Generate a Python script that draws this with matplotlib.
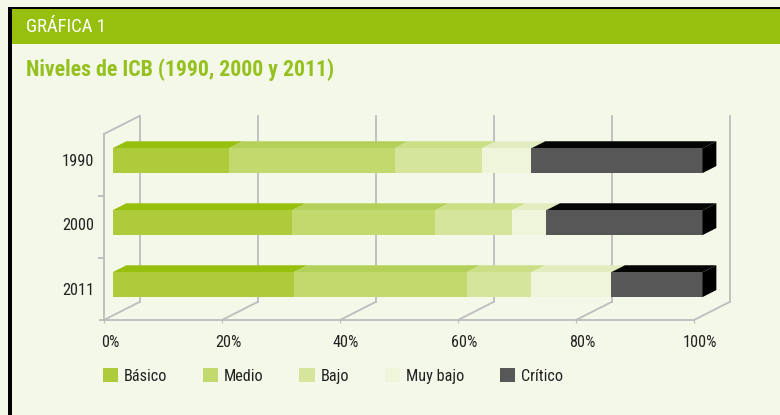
import os
import matplotlib
matplotlib.use("Agg")
import matplotlib.pyplot as plt
from matplotlib.patches import Rectangle, Polygon, Patch
from matplotlib.lines import Line2D
from matplotlib.transforms import ScaledTranslation
from matplotlib import font_manager
from matplotlib.font_manager import FontProperties
import numpy as np

# ---------------- data ----------------
years = ["1990", "2000", "2011"]
series = ["Básico", "Medio", "Bajo", "Muy bajo", "Crítico"]
basico   = [19.7, 30.4, 30.7]
medio    = [28.1, 24.3, 29.3]
bajo     = [14.8, 13.0, 11.0]
muy_bajo = [8.4, 5.8, 13.5]
critico  = [29.0, 26.5, 15.5]
xticks = [0, 20, 40, 60, 80, 100]
xtick_labels = ["0%", "20%", "40%", "60%", "80%", "100%"]

header_text = "GRÁFICA 1"
title_text = "Niveles de ICB (1990, 2000 y 2011)"

# ---------------- style ----------------
front_colors = ["#adcb3a", "#c2d96e", "#d5e59c", "#eff5da", "#575757"]
top_colors   = ["#97bf0d", "#b3d158", "#cadf86", "#e2edbf", "#050505"]
side_color = "#000000"
bg = "#f4f8e9"
green_header = "#97bf0d"
title_green = "#95c11f"
grid_col = "#bdbdbd"


def find_font(bold):
    bad = ["italic", "oblique", "light", "thin", "medium", "black", "semibold",
           "extrabold", "semicondensed", "extracondensed", "ultra", "demi"]
    prefs = ["liberationsansnarrow", "robotocondensed", "roboto_condensed",
             "notosans-condensed", "opensans-condensed", "opensans_condensed",
             "dejavusanscondensed"]
    best = None
    for f in font_manager.fontManager.ttflist:
        fn = os.path.basename(f.fname).lower()
        if not ("narrow" in fn or "condensed" in fn):
            continue
        if any(b in fn for b in bad):
            continue
        if bold != ("bold" in fn):
            continue
        for rank, p in enumerate(prefs):
            if p in fn:
                if best is None or rank < best[0]:
                    best = (rank, f.fname)
                break
    return best[1] if best else None


reg_file = find_font(False)
bold_file = find_font(True)


def fp(size, bold=False):
    f = bold_file if bold else reg_file
    if f:
        return FontProperties(fname=f, size=size)
    return FontProperties(family=["DejaVu Sans"], stretch="condensed", size=size,
                          weight="bold" if bold else "normal")


W, H = 780, 415
fig = plt.figure(figsize=(W / 100, H / 100), dpi=100, facecolor=bg)
renderer = fig.canvas.get_renderer()


def fit_size(text, target_px, bold=False, ref=12.0):
    t = fig.text(0, 0, text, fontproperties=fp(ref, bold))
    w = t.get_window_extent(renderer).width
    t.remove()
    return ref * target_px / w


TITLE_SIZE = min(16.5, fit_size(title_text, 307, bold=True))
HEAD_SIZE = min(14.0, fit_size(header_text, 80))
LBL = min(12.0, fit_size("100%", 34))


def fx(px):
    return px / W


def fy(py):
    return 1 - py / H


# frame + header
fig.patches.append(Rectangle((fx(10), fy(44)), fx(780) - fx(10), fy(9.5) - fy(44),
                             transform=fig.transFigure, facecolor=green_header,
                             edgecolor="none", zorder=0))
fig.patches.append(Rectangle((fx(7.5), fy(415)), fx(11.5) - fx(7.5), fy(6.7) - fy(415),
                             transform=fig.transFigure, facecolor="black",
                             edgecolor="none", zorder=1))
fig.patches.append(Rectangle((fx(7.5), fy(9.5)), fx(780) - fx(7.5), fy(6.7) - fy(9.5),
                             transform=fig.transFigure, facecolor="black",
                             edgecolor="none", zorder=1))
fig.text(fx(26), fy(27.5), header_text, color="white",
         fontproperties=fp(HEAD_SIZE), va="center", ha="left")
fig.text(fx(26), fy(70), title_text, color=title_green,
         fontproperties=fp(TITLE_SIZE, bold=True), va="center", ha="left")

# ---------------- axes (front floor / left wall) ----------------
ax_left, ax_right, ax_top, ax_bottom = 104, 694, 134, 320
ax = fig.add_axes([fx(ax_left), fy(ax_bottom), fx(ax_right) - fx(ax_left),
                   fy(ax_top) - fy(ax_bottom)])
ax.set_facecolor("none")
ax.set_xlim(0, 100)
ax.set_ylim(2.5, -0.5)
for s in ["top", "right"]:
    ax.spines[s].set_visible(False)
for s in ["left", "bottom"]:
    ax.spines[s].set_color(grid_col)
    ax.spines[s].set_linewidth(1.3)

ax.set_xticks(xticks)
ax.set_xticklabels(xtick_labels)
ax.tick_params(axis="x", length=2, color=grid_col, pad=9, labelcolor="#222222")
for lab in ax.get_xticklabels():
    lab.set_fontproperties(fp(LBL))
    lab.set_transform(lab.get_transform() + ScaledTranslation(0.06, 0, fig.dpi_scale_trans))

ypos = np.arange(len(years))
ax.set_yticks(ypos)
ax.set_yticklabels(years)
ax.tick_params(axis="y", which="major", length=0, pad=7, labelcolor="#222222")
for k, lab in enumerate(ax.get_yticklabels()):
    lab.set_fontproperties(fp(LBL))
    lab.set_transform(lab.get_transform() +
                      ScaledTranslation(0, [0.05, 0.03, 0.0][k], fig.dpi_scale_trans))
ax.set_yticks([0.5, 1.5], minor=True)
ax.tick_params(axis="y", which="minor", length=4, color=grid_col, width=1.3)

fig.canvas.draw()

# depth vector in display pixels (x right, y up)
D = np.array([35.5, 18.0])


def P(x, y, d):
    return ax.transData.transform((x, y)) + d * D


def add_line(p0, p1, **kw):
    ax.add_line(Line2D([p0[0], p1[0]], [p0[1], p1[1]], transform=None,
                       color=grid_col, linewidth=1.3, clip_on=False, **kw))


# back wall gridlines and floor diagonals
for xv in xticks:
    add_line(P(xv, 2.5, 1), P(xv, -0.5, 1), zorder=1)
    add_line(P(xv, 2.5, 0), P(xv, 2.5, 1), zorder=1)
# left wall top edge
add_line(P(0, -0.5, 0), P(0, -0.5, 1), zorder=1)
# little extension of floor front to the left
p = P(0, 2.5, 0)
add_line(p - np.array([4, 0]), p, zorder=1)

# ---------------- bars ----------------
data = np.array([basico, medio, bajo, muy_bajo, critico])
lefts = np.vstack([np.zeros(len(years)), np.cumsum(data, axis=0)[:-1]])
bh = 0.40
d0, d1 = 0.24, 0.63

for i in range(len(series)):
    for j in range(len(years)):
        l = lefts[i, j]
        r = l + data[i, j]
        yt, yb = j - bh / 2, j + bh / 2
        front = Polygon([P(l, yb, d0), P(r, yb, d0), P(r, yt, d0), P(l, yt, d0)],
                        closed=True, transform=None, facecolor=front_colors[i],
                        edgecolor="none", zorder=3, clip_on=False)
        top = Polygon([P(l, yt, d0), P(r, yt, d0), P(r, yt, d1), P(l, yt, d1)],
                      closed=True, transform=None, facecolor=top_colors[i],
                      edgecolor="none", zorder=2, clip_on=False)
        ax.add_patch(front)
        ax.add_patch(top)
        if i == len(series) - 1:
            side = Polygon([P(r, yt, d0), P(r, yb, d0), P(r, yb, d1), P(r, yt, d1)],
                           closed=True, transform=None, facecolor=side_color,
                           edgecolor="none", zorder=3, clip_on=False)
            ax.add_patch(side)

# ---------------- legend ----------------
handles = [Patch(facecolor=c, edgecolor="none") for c in front_colors]
leg = fig.legend(handles, series, loc="center left",
                 bbox_to_anchor=(fx(88), fy(376)), ncol=5, frameon=False,
                 handlelength=0.95, handleheight=0.95, handletextpad=0.35,
                 columnspacing=2.2, prop=fp(LBL))
for t in leg.get_texts():
    t.set_color("#222222")

fig.savefig("out.png", dpi=100, facecolor=bg)
